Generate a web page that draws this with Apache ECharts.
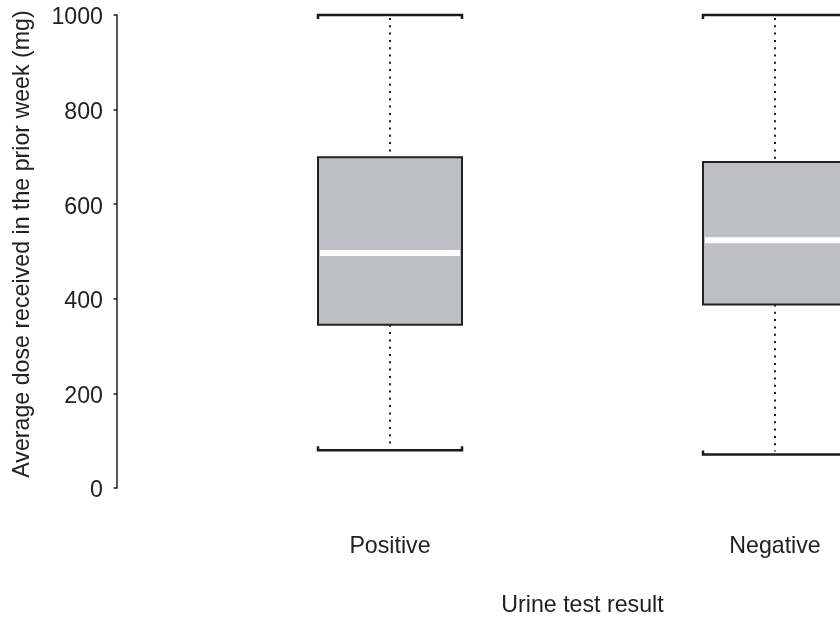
<!DOCTYPE html>
<html>
<head>
<meta charset="utf-8">
<script src="https://cdn.jsdelivr.net/npm/echarts@6/dist/echarts.min.js"></script>
<style>html,body{margin:0;padding:0;background:#fff}#c{width:840px;height:619px}</style>
</head>
<body>
<div id="c"></div>
<script>
const categories = ['Positive', 'Negative'];
const whiskerLow = [80, 71];
const q1 = [345, 388];
const median = [497, 524];
const q3 = [699, 689];
const whiskerHigh = [1000, 1000];
const yTicks = [0, 200, 400, 600, 800, 1000];

const data = categories.map((c, i) => [i, whiskerLow[i], q1[i], median[i], q3[i], whiskerHigh[i]]);

const chart = echarts.init(document.getElementById('c'));
const FONT = 'Liberation Sans, Arial, sans-serif';
const FS = 23.2;
const BOXW = 144;

function renderItem(params, api) {
  const x = api.value(0);
  const pMin = api.coord([x, api.value(1)]);
  const pQ1 = api.coord([x, api.value(2)]);
  const pMed = api.coord([x, api.value(3)]);
  const pQ3 = api.coord([x, api.value(4)]);
  const pMax = api.coord([x, api.value(5)]);
  const cx = pMed[0];
  const hw = BOXW / 2;
  const capStyle = { stroke: '#1a1a1a', lineWidth: 2.5, fill: null, lineJoin: 'miter' };
  const dotStyle = { stroke: '#1a1a1a', lineWidth: 2, lineDash: [2, 5.3] };
  return {
    type: 'group',
    children: [
      { type: 'line', shape: { x1: cx, y1: pMax[1] + 3, x2: cx, y2: pQ3[1] }, style: dotStyle },
      { type: 'line', shape: { x1: cx, y1: pQ1[1], x2: cx, y2: pMin[1] - 3 }, style: dotStyle },
      { type: 'polyline', shape: { points: [[cx - hw, pMax[1] + 4], [cx - hw, pMax[1]], [cx + hw, pMax[1]], [cx + hw, pMax[1] + 4]] }, style: capStyle },
      { type: 'polyline', shape: { points: [[cx - hw, pMin[1] - 4], [cx - hw, pMin[1]], [cx + hw, pMin[1]], [cx + hw, pMin[1] - 4]] }, style: capStyle },
      { type: 'rect', shape: { x: cx - hw, y: pQ3[1], width: BOXW, height: pQ1[1] - pQ3[1] }, style: { fill: '#bebfc3', stroke: '#222', lineWidth: 2 } },
      { type: 'line', shape: { x1: cx - hw + 2, y1: pMed[1], x2: cx + hw - 2, y2: pMed[1] }, style: { stroke: '#ffffff', lineWidth: 6 } }
    ]
  };
}

chart.setOption({
  animation: false,
  grid: { left: 197.5, top: 15, width: 770, height: 473, containLabel: false, outerBoundsMode: 'none' },
  xAxis: {
    type: 'category',
    data: categories,
    boundaryGap: true,
    axisLine: { show: false },
    axisTick: { show: false },
    axisLabel: { margin: 47, fontSize: FS, color: '#222', fontFamily: FONT },
    name: 'Urine test result',
    nameLocation: 'middle',
    nameGap: 106,
    nameTextStyle: { fontSize: FS, color: '#222', fontFamily: FONT }
  },
  yAxis: {
    type: 'value',
    min: yTicks[0],
    max: yTicks[yTicks.length - 1],
    interval: 200,
    offset: 80.5,
    splitLine: { show: false },
    axisLine: { show: true, lineStyle: { color: '#222', width: 1.5 } },
    axisTick: { show: true, length: 3.5, lineStyle: { color: '#222', width: 1.5 } },
    axisLabel: {
      margin: 14, fontSize: FS, color: '#222', fontFamily: FONT,
      formatter: v => '{t|' + v + '}',
      rich: { t: { fontSize: FS, color: '#222', fontFamily: FONT, padding: [6, 0, 0, 0] } }
    },
    name: 'Average dose received in the prior week (mg)',
    nameLocation: 'middle',
    nameGap: 83,
    nameTextStyle: { fontSize: FS, color: '#222', fontFamily: FONT, padding: [0, 0, 0, 15] }
  },
  series: [{
    type: 'custom',
    renderItem: renderItem,
    encode: { x: 0, y: [1, 2, 3, 4, 5] },
    data: data,
    clip: false
  }]
});
</script>
</body>
</html>
